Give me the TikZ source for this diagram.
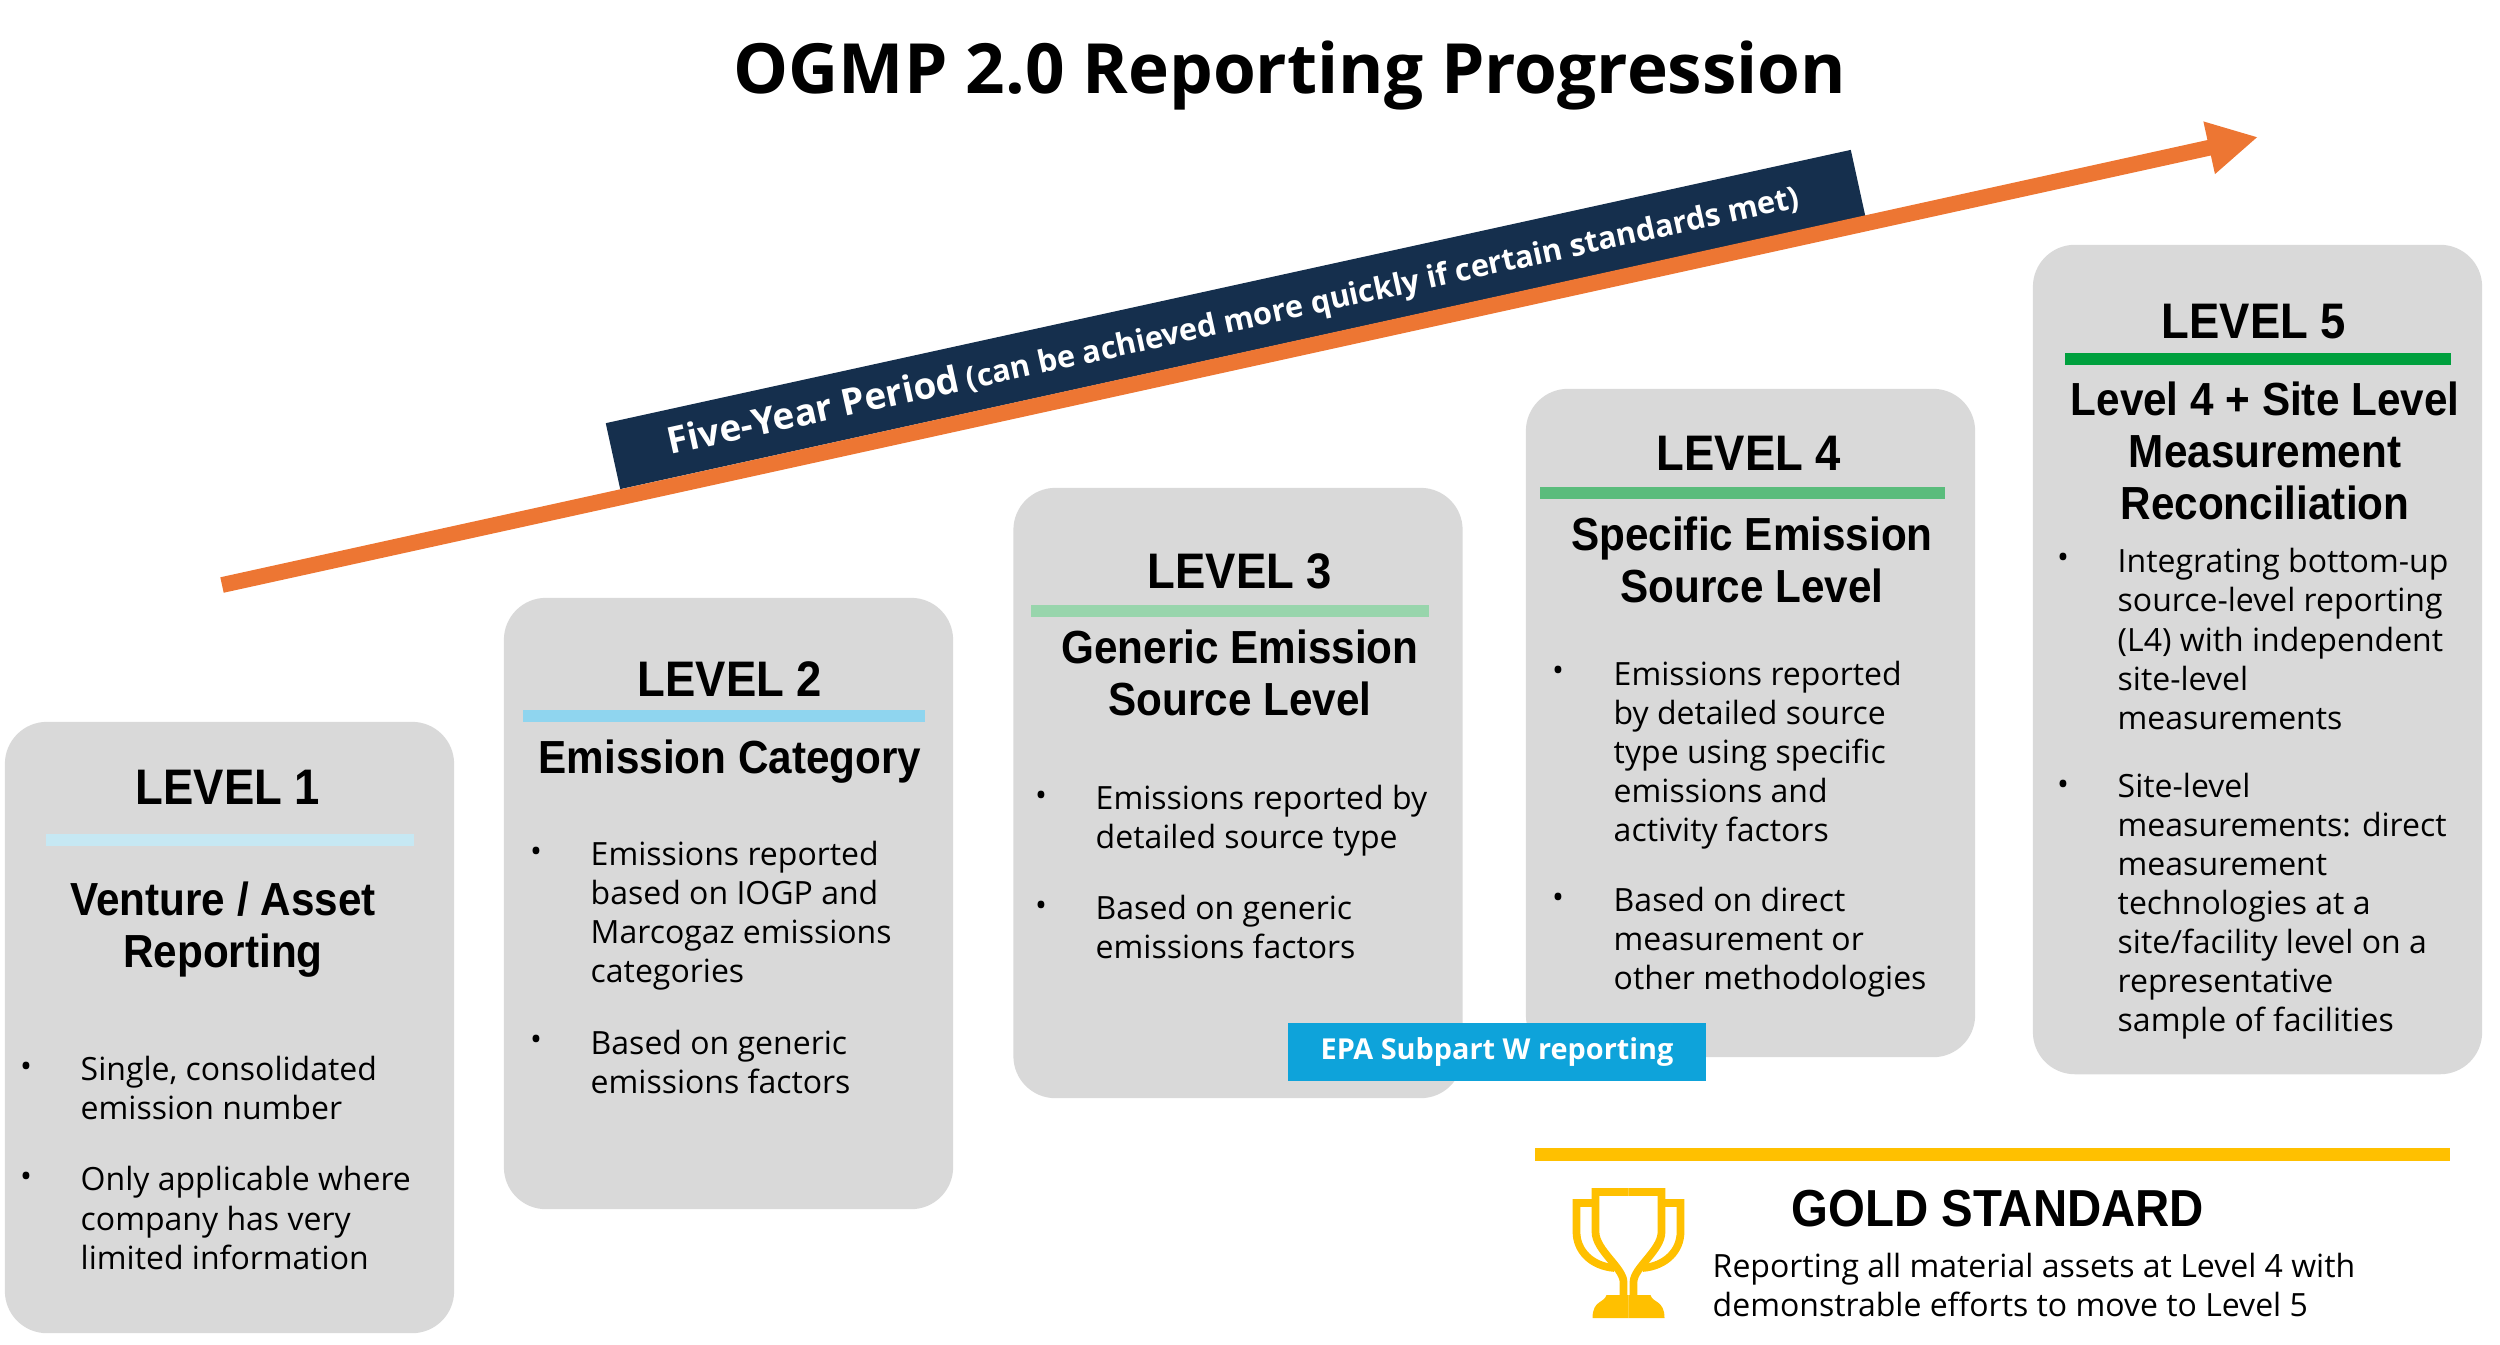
\documentclass[tikz,border=0pt]{standalone}
\usepackage{fontspec}
\setmainfont{Open Sans}
\newfontfamily\headfont[FakeStretch=0.91]{Liberation Sans}
\usetikzlibrary{arrows.meta}
\definecolor{myorange}{HTML}{ED7633}
\definecolor{mynavy}{HTML}{152F4D}
\definecolor{mycard}{HTML}{D9D9D9}
\definecolor{mygold}{HTML}{FFC000}
\definecolor{myepa}{HTML}{0EA3DA}
\definecolor{barone}{HTML}{C6E8F3}
\definecolor{bartwo}{HTML}{8FD5EF}
\definecolor{barthree}{HTML}{98D5AC}
\definecolor{barfour}{HTML}{5ABC7C}
\definecolor{barfive}{HTML}{00A03E}

\begin{document}
\begin{tikzpicture}[x=0.01cm,y=-0.01cm,
    card/.style={rounded corners=0.42cm,fill=mycard,minimum width=4.49cm,inner sep=0},
    levelhead/.style={font=\headfont\fontsize{14.2}{17}\selectfont\bfseries,inner sep=0},
    subhead/.style={font=\headfont\fontsize{13.2}{14.8}\selectfont\bfseries,align=center,inner sep=0},
    itemtext/.style={font=\fontsize{9.1}{11.1}\selectfont,align=left,anchor=west,inner sep=0},
    dot/.style={font=\fontsize{9}{10}\selectfont,inner sep=0}]
    \useasboundingbox (0,0) rectangle (2500,1344);
    \node[font=\fontsize{19.7}{24}\selectfont\bfseries,inner sep=0] (title) at (1290,75) {OGMP 2.0 Reporting Progression};
    % band and arrow
    \node[fill=mynavy,rotate=12.38,minimum width=12.74cm,minimum height=0.675cm,inner sep=0] (band) at (1235.5,319.5) {};
    \node[rotate=12.38,text=white,anchor=west,inner sep=0,font=\fontsize{8.75}{10}\selectfont\bfseries] (bandtext) at (668,445)
    {{\fontsize{10.5}{10}\selectfont Five-Year Period} (can be achieved more quickly if certain standards met)};
    \coordinate (arrowstart) at (222,585);
    \coordinate (arrowend) at (2258,137);
    \draw[myorange,line width=4.5pt,-{Triangle[length=0.5cm,width=0.5cm]}] (arrowstart) -- (arrowend);
    % cards, heads and bars
    \foreach \X/\cx/\cy/\ch/\hx/\hy/\bl/\br/\by/\bc in {
      1/229.5/1027.5/6.11/228/787/46/414/840/barone,
      2/728.5/903.5/6.11/730/679/523/925/716/bartwo,
      3/1238/793/6.10/1240/571/1031/1429/611/barthree,
      4/1750.5/723/6.68/1749/453/1540/1945/493/barfour,
      5/2257.5/659.5/8.29/2254/322/2065/2451/359/barfive}
    {\node[card,minimum height=\ch cm] (card\X) at (\cx,\cy) {};
    \node[levelhead] (head\X) at (\hx,\hy) {LEVEL \X};
    \fill[\bc] (\bl,\by-6) rectangle (\br,\by+6);}
    \node[subhead] (sub1) at (223,930) {Venture / Asset\\Reporting};
    \node[subhead] (sub2) at (730,762) {Emission Category};
    \node[subhead] (sub3) at (1240,673) {Generic Emission\\Source Level};
    \node[subhead] (sub4) at (1752,560) {Specific Emission\\Source Level};
    \node[subhead] (sub5) at (2265,451) {Level 4 + Site Level\\Measurement\\Reconciliation};
    % bullet items
    \foreach \N/\dx/\dy/\tx/\ty/\txt in {
      a/26/1070/80/1088/{Single, consolidated\\emission number},
      b/26/1180/80/1218/{Only applicable where\\company has very\\limited information},
      c/536/855/590/916/{Emissions reported\\based on IOGP and\\Marcogaz emissions\\categories},
      d/536/1043/590/1062/{Based on generic\\emissions factors},
      e/1041/799/1095/821/{Emissions reported by\\detailed source type},
      f/1041/909/1095/927/{Based on generic\\emissions factors},
      g/1558/674/1613/755/{Emissions reported\\by detailed source\\type using specific\\emissions and\\activity factors},
      h/1558/901/1613/942/{Based on direct\\measurement or\\other methodologies},
      i/2063/561/2117/639/{Integrating bottom-up\\source-level reporting\\(L4) with independent\\site-level\\measurements},
      j/2063/788/2117/906/{Site-level\\measurements: direct\\measurement\\technologies at a\\site/facility level on a\\representative\\sample of facilities}}
    {\node[dot] (dot\N) at (\dx,\dy) {•};
    \node[itemtext] (item\N) at (\tx,\ty) {\txt};}
    \node[fill=myepa,text=white,minimum width=4.18cm,minimum height=0.58cm,inner sep=0,font=\fontsize{8.2}{10}\selectfont\bfseries] (epa) at (1497,1052) {\raisebox{-0.6pt}{EPA Subpart W reporting}};
    % gold standard
    \fill[mygold] (1535,1148) rectangle (2450,1161);
    \node[font=\headfont\fontsize{14.8}{17}\selectfont\bfseries,inner sep=0] (gold) at (1998,1209) {GOLD STANDARD};
    \node[itemtext] (goldtext) at (1712,1285) {Reporting all material assets at Level 4 with\\demonstrable efforts to move to Level 5};
    % trophy
    \begin{scope}[shift={(1628.5,0)},mygold,line width=2.2pt,line join=miter]
    \foreach \S in {1,-1}
    {\begin{scope}[xscale=\S]
    \draw (0,1192) -- (33,1192) -- (33,1232) .. controls (33,1250) and (5,1268) .. (5,1282) -- (5,1300);
    \draw (33,1203) -- (52,1203) -- (52,1232) .. controls (52,1250) and (38,1266) .. (14,1268);
    \fill (0,1295) -- (22,1295) .. controls (24,1303) and (36,1300) .. (36,1318) -- (0,1318) -- cycle;
    \end{scope}}
    \end{scope}
\end{tikzpicture}
\end{document}
